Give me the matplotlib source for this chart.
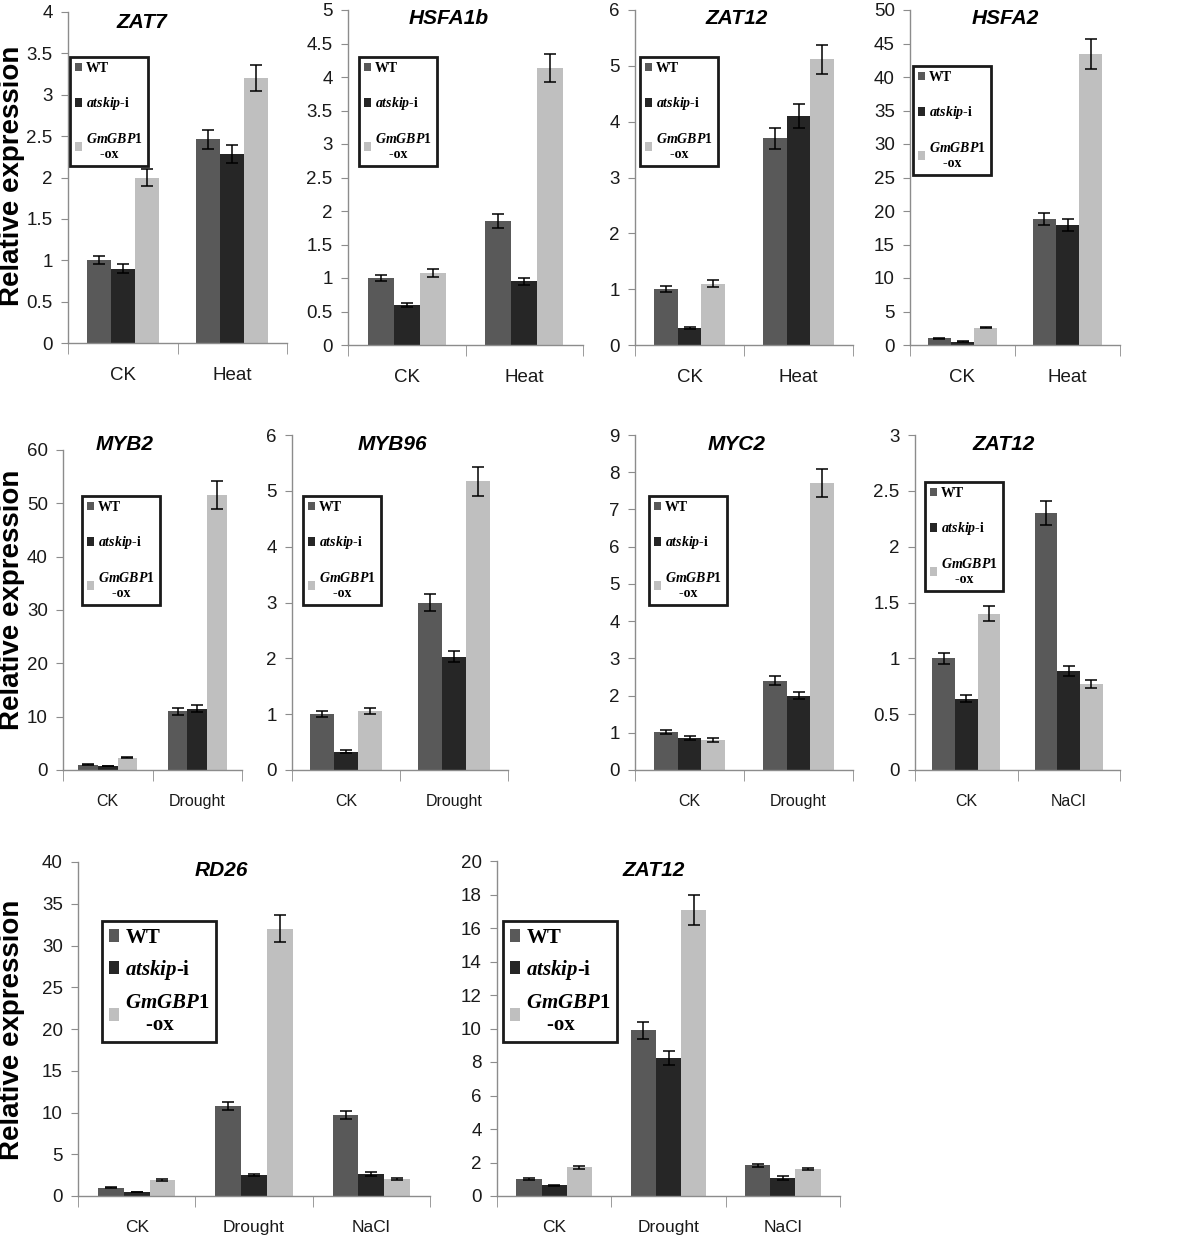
import numpy as np
import matplotlib
matplotlib.use('Agg')
import matplotlib.pyplot as plt
from matplotlib.patches import Patch
from matplotlib.ticker import MultipleLocator, FuncFormatter

plt.rcParams['mathtext.fontset'] = 'custom'
plt.rcParams['mathtext.it'] = 'Liberation Serif:italic:bold'
plt.rcParams['mathtext.rm'] = 'Liberation Serif:bold'

# conditions and genotypes
heat_conds = ['CK', 'Heat']
drought_conds = ['CK', 'Drought']
salt_conds = ['CK', 'NaCl']
all_conds = ['CK', 'Drought', 'NaCl']
genotypes = ['WT', r'$\it{atskip}$-i', '$\\it{GmGBP1}$\n    -ox']
colors = ['#595959', '#262626', '#bfbfbf']

# rows = WT, atskip-i, GmGBP1-ox ; columns = conditions
zat7 = [[1.0, 2.46], [0.90, 2.28], [2.0, 3.2]]
zat7_err = [[0.05, 0.12], [0.05, 0.11], [0.10, 0.16]]
hsfa1b = [[1.0, 1.85], [0.60, 0.95], [1.08, 4.14]]
hsfa1b_err = [[0.05, 0.10], [0.03, 0.05], [0.06, 0.21]]
zat12_heat = [[1.0, 3.7], [0.30, 4.1], [1.1, 5.12]]
zat12_heat_err = [[0.05, 0.19], [0.02, 0.21], [0.06, 0.26]]
hsfa2 = [[1.0, 18.8], [0.5, 17.9], [2.6, 43.4]]
hsfa2_err = [[0.05, 0.9], [0.03, 0.9], [0.13, 2.2]]

myb2 = [[1.0, 11.0], [0.7, 11.5], [2.3, 51.6]]
myb2_err = [[0.05, 0.6], [0.04, 0.6], [0.12, 2.6]]
myb96 = [[1.0, 3.0], [0.33, 2.03], [1.06, 5.17]]
myb96_err = [[0.05, 0.15], [0.02, 0.10], [0.05, 0.26]]
myc2 = [[1.02, 2.4], [0.86, 2.0], [0.81, 7.72]]
myc2_err = [[0.05, 0.12], [0.05, 0.10], [0.05, 0.38]]
zat12_salt = [[1.0, 2.3], [0.64, 0.89], [1.4, 0.77]]
zat12_salt_err = [[0.05, 0.11], [0.03, 0.045], [0.07, 0.04]]

rd26 = [[1.0, 10.8, 9.7], [0.45, 2.5, 2.65], [1.9, 32.0, 2.0]]
rd26_err = [[0.05, 0.5, 0.5], [0.03, 0.1, 0.2], [0.1, 1.6, 0.1]]
zat12_all = [[1.0, 9.9, 1.85], [0.65, 8.25, 1.1], [1.72, 17.1, 1.62]]
zat12_all_err = [[0.05, 0.5, 0.09], [0.03, 0.4, 0.12], [0.09, 0.9, 0.08]]

W, H = 1200, 1243
fig = plt.figure(figsize=(12, 12.43), dpi=100)

def fbox(l, r, t, b):
    return [l / W, 1 - b / H, (r - l) / W, (b - t) / H]

tick_font = ['Liberation Sans Narrow', 'Liberation Sans']

# title, conds, means, errs, ymax, step, axes box (l, r, t, b) px, title pos, legend pos, row
panels = [
    ('ZAT7', heat_conds, zat7, zat7_err, 4, 0.5, (68, 287, 12, 343), (142, 22), (70, 57), 0),
    ('HSFA1b', heat_conds, hsfa1b, hsfa1b_err, 5, 0.5, (348, 583, 10, 345), (449, 18), (359, 57), 0),
    ('ZAT12', heat_conds, zat12_heat, zat12_heat_err, 6, 1, (635, 853, 10, 345), (737, 18), (640, 57), 0),
    ('HSFA2', heat_conds, hsfa2, hsfa2_err, 50, 5, (910, 1120, 10, 345), (1005, 18), (913, 66), 0),
    ('MYB2', drought_conds, myb2, myb2_err, 60, 10, (63, 242, 450, 770), (125, 445), (82, 496), 1),
    ('MYB96', drought_conds, myb96, myb96_err, 6, 1, (292, 508, 435, 770), (392, 445), (303, 496), 1),
    ('MYC2', drought_conds, myc2, myc2_err, 9, 1, (635, 853, 435, 770), (737, 445), (649, 496), 1),
    ('ZAT12', salt_conds, zat12_salt, zat12_salt_err, 3, 0.5, (915, 1120, 435, 770), (1004, 445), (925, 482), 1),
    ('RD26', all_conds, rd26, rd26_err, 40, 5, (78, 430, 862, 1196), (221, 870), (102, 921), 2),
    ('ZAT12', all_conds, zat12_all, zat12_all_err, 20, 2, (497, 840, 861, 1196), (654, 870), (503, 921), 2),
]

leg_style = {0: (10, 1.45, 0.35), 1: (10, 1.45, 0.35), 2: (15, 0.5, 0.32)}
cat_size = {0: 13.5, 1: 11.5, 2: 12.5}
bw = 0.22
axis_grey = '#8c8c8c'

for title, conds, means, errs, ymax, step, box, tpos, lpos, row in panels:
    ax = fig.add_axes(fbox(*box))
    x = np.arange(len(conds))
    for i in range(3):
        ax.bar(x + (i - 1) * bw, means[i], bw, color=colors[i], yerr=errs[i],
               capsize=4, error_kw=dict(elinewidth=1.1, capthick=1.1, ecolor='black'),
               zorder=2)
    ax.set_xlim(-0.5, len(conds) - 0.5)
    ax.set_ylim(0, ymax)
    ax.yaxis.set_major_locator(MultipleLocator(step))
    ax.yaxis.set_major_formatter(FuncFormatter(lambda v, _: f'{v:g}'))
    for s in ['top', 'right']:
        ax.spines[s].set_visible(False)
    for s in ['left', 'bottom']:
        ax.spines[s].set_color(axis_grey)
        ax.spines[s].set_linewidth(1)
    ax.set_xticks(x)
    ax.set_xticklabels(conds, family=tick_font, fontsize=cat_size[row], color='#1a1a1a')
    ax.set_xticks(np.arange(-0.5, len(conds)), minor=True)
    ax.tick_params(axis='x', which='major', length=0, pad=17)
    ax.tick_params(axis='x', which='minor', length=8, color=axis_grey, direction='out')
    ax.tick_params(axis='y', length=5, color=axis_grey, pad=6, labelsize=13.5, labelcolor='#1a1a1a')
    for lab in ax.get_yticklabels():
        lab.set_family(tick_font)

    fig.text(tpos[0] / W, 1 - tpos[1] / H, title, fontsize=15, fontweight='bold',
             fontstyle='italic', family='Liberation Sans', ha='center', va='center')

    fs, ls, bp = leg_style[row]
    handles = [Patch(facecolor=c, edgecolor='none') for c in colors]
    leg = ax.legend(handles, genotypes, loc='upper left',
                    bbox_to_anchor=(lpos[0] / W, 1 - lpos[1] / H),
                    bbox_transform=fig.transFigure, borderaxespad=0,
                    prop=dict(family='Liberation Serif', weight='bold', size=fs),
                    handlelength=0.5, handleheight=0.6, handletextpad=0.3,
                    labelspacing=ls, borderpad=bp, fancybox=False, framealpha=1,
                    edgecolor='#1a1a1a')
    leg.get_frame().set_linewidth(2)

for yc in [176, 600, 1030]:
    fig.text(12 / W, 1 - yc / H, 'Relative expression', rotation=90, fontsize=20,
             fontweight='bold', family='Liberation Sans', ha='center', va='center')

fig.savefig('out.png', dpi=100)
